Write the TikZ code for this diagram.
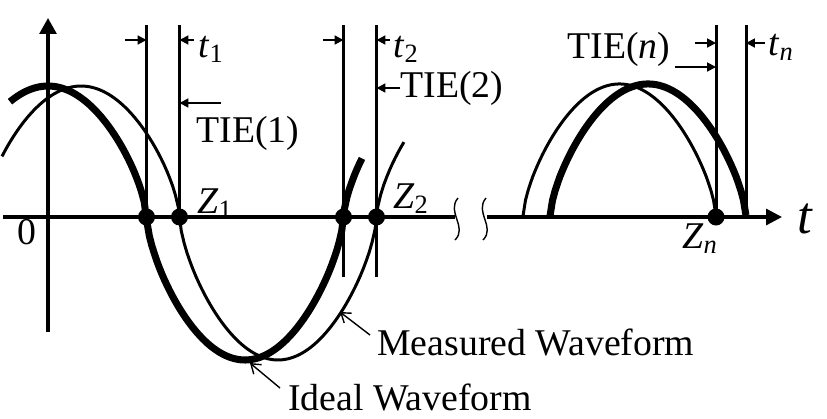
\documentclass[tikz,border=0pt]{standalone}
\usepackage{fontspec}
\setmainfont{Liberation Serif}
\usetikzlibrary{arrows.meta}
\newcommand{\sym}[2]{\textit{#1}\textsubscript{#2}}
\begin{document}
\begin{tikzpicture}[
  font=\fontsize{21.5}{24}\selectfont,
  declare function={wv(\a)=cos(\a)*(abs(cos(\a))+0.0005)^(-0.35);
    wy(\a)=2.74*wv(\a)-0.12*abs(wv(\a));
    hump(\a)=2.66*(abs(sin(\a))+0.0005)^0.65;},
  axis/.style={line width=1.8pt},
  ideal/.style={line width=4pt},
  measured/.style={line width=1.7pt},
  crossline/.style={line width=1.7pt},
  gap/.style={line width=1.1pt,-{Triangle[length=5pt,width=5pt]}},
  leader/.style={line width=0.8pt,-{Straight Barb[length=5pt,width=7pt]}},
  lbl/.style={inner sep=0pt,anchor=base west},
  zero/.style={circle,fill,inner sep=0pt,minimum size=0.34cm}
]
\useasboundingbox (-0.96,-4.02) rectangle (15.58,4.34);
% axes
\draw[axis] (-0.9,0) -- (8.14,0);
\draw[axis,-{Triangle[length=9pt,width=9pt]}] (8.78,0) -- (14.68,0);
\draw[axis,-{Triangle[length=9pt,width=9.5pt]}] (0,-2.3) -- (0,3.98);
\foreach \b in {8.18,8.74}
   \draw[line width=0.8pt] (\b+0.02,0.38) .. controls (\b-0.22,0.1) and (\b+0.22,-0.2) .. (\b-0.04,-0.46);
\node at (-0.42,-0.3) {0};
\node[lbl,font=\fontsize{30}{32}\selectfont\itshape] (tax) at (14.98,-0.32) {t};
% zero crossings
\coordinate (i1) at (1.97,0);
\coordinate (m1) at (2.63,0);
\coordinate (i2) at (5.91,0);
\coordinate (m2) at (6.57,0);
\coordinate (zn) at (13.36,0);
\coordinate (tn) at (13.96,0);
% waveforms
\draw[ideal] plot[domain=-0.76:6.28,samples=140] (\x,{wy(180*\x/3.94)});
\draw[measured] plot[domain=-0.92:7.12,samples=140] (\x,{wy(180*(\x-0.66)/3.94)});
\draw[measured] plot[domain=9.5:13.36,samples=80] (\x,{hump(180*(\x-9.5)/3.86)});
\draw[ideal] plot[domain=10.04:13.96,samples=80] (\x,{hump(180*(\x-10.04)/3.92)});
% edge lines
\foreach \p in {i1,m1,zn,tn}
   \draw[crossline] (\p) -- ++(0,3.84);
\foreach \p in {i2,m2}
   \draw[crossline] ([yshift=-1.2cm]\p) -- ++(0,5.04);
\foreach \p in {i1,m1,i2,m2,zn}
   \node[zero] at (\p) {};
% intervals
\draw[gap] (1.54,3.54) -- (i1 |- 0,3.54);
\draw[gap] (2.92,3.54) -- (m1 |- 0,3.54);
\node[lbl] (t1) at (3.0,3.2) {\sym{t}{1}};
\draw[gap] (5.5,3.54) -- (i2 |- 0,3.54);
\draw[gap] (6.84,3.54) -- (m2 |- 0,3.54);
\node[lbl] (t2) at (6.9,3.2) {\sym{t}{2}};
\draw[gap] (12.94,3.48) -- (zn |- 0,3.48);
\draw[gap] (14.34,3.48) -- (tn |- 0,3.48);
\node[lbl] (tnl) at (14.4,3.24) {\sym{t}{\textit{n}}};
% TIE labels
\node[lbl] (tie1) at (2.96,1.5) {TIE(1)};
\draw[gap] (3.46,2.28) -- (m1 |- 0,2.28);
\node[lbl] (tie2) at (7.04,2.4) {TIE(2)};
\draw[gap] (tie2.west |- 0,2.58) -- (m2 |- 0,2.58);
\node[lbl] (tien) at (10.38,3.18) {TIE(\textit{n})};
\draw[gap] (12.54,3.0) -- (zn |- 0,3.0);
% crossing labels
\node[lbl] (z1) at (2.98,0.08) {\sym{Z}{1}};
\node[lbl] (z2) at (6.9,0.18) {\sym{Z}{2}};
\node[lbl] (zl) at (12.68,-0.62) {\sym{Z}{\textit{n}}};
% waveform names
\node[lbl] (meas) at (6.58,-2.76) {Measured Waveform};
\node[lbl] (ideal) at (4.8,-3.86) {Ideal Waveform};
\coordinate (mtip) at (5.84,-1.9);
\coordinate (itip) at (4.04,-2.92);
\draw[leader] (6.44,-2.36) -- (mtip);
\draw[leader] (4.64,-3.42) -- (itip);
\end{tikzpicture}
\end{document}
